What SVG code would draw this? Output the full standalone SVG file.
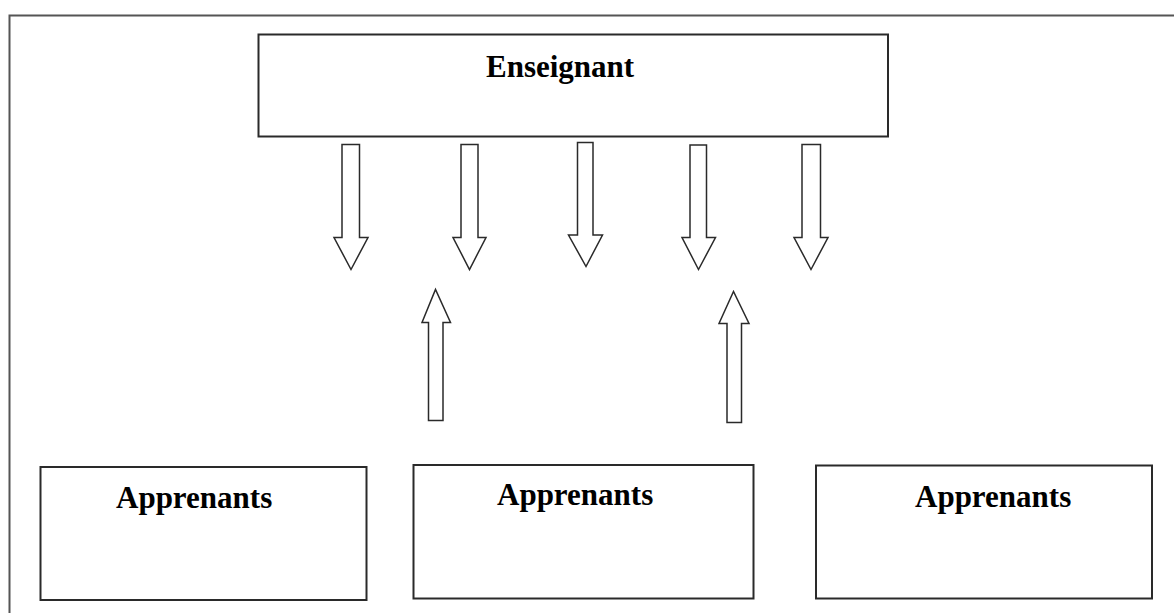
<svg xmlns="http://www.w3.org/2000/svg" width="1174" height="613" viewBox="0 0 1174 613">
<style>
.frame{fill:none;stroke:#555;stroke-width:2}
.box{fill:#fff;stroke:#2a2a2a;stroke-width:2}
.arr{fill:#fff;stroke:#2a2a2a;stroke-width:1.5;stroke-linejoin:miter}
.lbl{font-family:"Liberation Serif","Times New Roman",serif;font-weight:bold;font-size:31px;fill:#000}
</style>
<rect width="1174" height="613" fill="#fff"/>
<path class="frame" d="M9.5,620 V15.5 H1180"/>
<g id="enseignant">
<rect class="box" x="258.5" y="34.5" width="629.5" height="102"/>
<text class="lbl" x="486" y="77">Enseignant</text>
</g>
<g id="apprenants1">
<rect class="box" x="40.5" y="467" width="326" height="133"/>
<text class="lbl" x="116" y="508">Apprenants</text>
</g>
<g id="apprenants2">
<rect class="box" x="413.5" y="465" width="340" height="133.5"/>
<text class="lbl" x="497" y="505">Apprenants</text>
</g>
<g id="apprenants3">
<rect class="box" x="816" y="465.5" width="336" height="133"/>
<text class="lbl" x="915" y="506.5">Apprenants</text>
</g>
<g id="connectors">
<path class="arr" d="M342,144.5 H359.5 V237.5 H368 L351,269.5 L334,237.5 H342 Z"/>
<path class="arr" d="M461,144.5 H478 V237.5 H486 L469.5,269.5 L453,237.5 H461 Z"/>
<path class="arr" d="M577.5,142.5 H593 V235 H602.5 L586,266.5 L568.5,235 H577.5 Z"/>
<path class="arr" d="M690,145 H706.5 V237.5 H715.5 L698.5,269.5 L682,237.5 H690 Z"/>
<path class="arr" d="M802,144.5 H820.5 V237.5 H828 L811,269.5 L794,237.5 H802 Z"/>
<path class="arr" d="M428.5,420.5 H443 V322.5 H450.5 L435.5,289.5 L422,322.5 H428.5 Z"/>
<path class="arr" d="M727,422.5 H741.5 V323.5 H749 L733.5,291.5 L719,323.5 H727 Z"/>
</g>
</svg>
